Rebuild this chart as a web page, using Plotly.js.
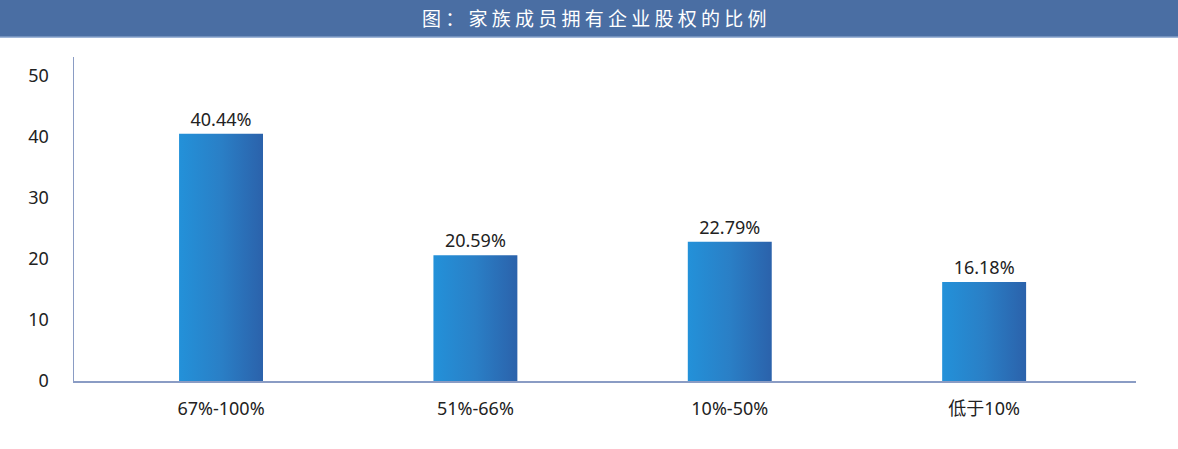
<!DOCTYPE html>
<html>
<head>
<meta charset="utf-8">
<script src="https://cdn.plot.ly/plotly-3.0.1.min.js"></script>
<style>
  html, body { margin: 0; padding: 0; background: #fff; }
  #chart { width: 1178px; height: 449px; }
</style>
</head>
<body>
<div id="chart"></div>
<script>
// Data
const categories = ['67%-100%', '51%-66%', '10%-50%', '低于10%'];
const shares = [40.44, 20.59, 22.79, 16.18];
const shareLabels = ['40.44%', '20.59%', '22.79%', '16.18%'];
const yTicks = [0, 10, 20, 30, 40, 50];
const chartTitle = '图：家族成员拥有企业股权的比例';

const latinFont = '"Noto Sans", "Open Sans", sans-serif';
const axisColor = '#8a9cc4';

const trace = {
    type: 'bar',
    x: categories,
    y: shares,
    text: shareLabels,
    textposition: 'outside',
    cliponaxis: false,
    textfont: { family: latinFont, size: 18, color: '#222' },
    marker: { color: '#2679c4', line: { width: 0 } },
    width: 0.33,
    hoverinfo: 'none'
};

const layout = {
    width: 1178,
    height: 449,
    margin: { l: 74, r: 42, t: 57, b: 68 },
    paper_bgcolor: '#ffffff',
    plot_bgcolor: '#ffffff',
    showlegend: false,
    font: { family: latinFont, color: '#222' },
    xaxis: {
        type: 'category',
        range: [-0.578, 3.597],
        showgrid: false,
        zeroline: false,
        showline: true,
        linecolor: axisColor,
        linewidth: 1.5,
        ticks: '',
        ticklabelstandoff: 11,
        tickfont: { family: '"Noto Sans", "Noto Sans CJK SC", sans-serif', size: 18, color: '#222' },
        fixedrange: true
    },
    yaxis: {
        range: [0, 53],
        tickvals: yTicks,
        ticktext: yTicks.map(String),
        showgrid: false,
        zeroline: false,
        showline: true,
        linecolor: axisColor,
        linewidth: 1.5,
        ticks: '',
        ticklabelstandoff: 20,
        tickfont: { family: latinFont, size: 18, color: '#222' },
        fixedrange: true
    },
    shapes: [
        {
            type: 'rect', xref: 'paper', yref: 'paper', layer: 'below',
            x0: -0.07, x1: 1.04, y0: 1.062, y1: 1.18,
            fillcolor: '#4a6ea3', line: { width: 0 }
        },
        {
            type: 'line', xref: 'paper', yref: 'paper',
            x0: -0.07, x1: 1.04, y0: 1.061, y1: 1.061,
            line: { color: '#9fb6d8', width: 1.5 }
        }
    ],
    annotations: [{
        xref: 'paper', yref: 'paper',
        x: (594 - 74) / 1062, y: 1.121,
        xanchor: 'center', yanchor: 'middle',
        showarrow: false,
        text: chartTitle.split('').join(' '),
        font: { family: '"Noto Sans CJK SC", sans-serif', size: 19, color: '#ffffff' }
    }]
};

Plotly.newPlot('chart', [trace], layout, { displayModeBar: false, staticPlot: true }).then(gd => {
    // horizontal gradient on the bars, light blue to dark blue
    const svg = gd.querySelector('svg.main-svg');
    const ns = 'http://www.w3.org/2000/svg';
    let defs = svg.querySelector('defs');
    if (!defs) { defs = document.createElementNS(ns, 'defs'); svg.insertBefore(defs, svg.firstChild); }
    const grad = document.createElementNS(ns, 'linearGradient');
    grad.setAttribute('id', 'barGrad');
    grad.setAttribute('x1', '0'); grad.setAttribute('y1', '0');
    grad.setAttribute('x2', '1'); grad.setAttribute('y2', '0');
    [['0', '#2391d9'], ['0.5', '#2a7fc6'], ['1', '#2b62ab']].forEach(([o, c]) => {
        const s = document.createElementNS(ns, 'stop');
        s.setAttribute('offset', o); s.setAttribute('stop-color', c);
        grad.appendChild(s);
    });
    defs.appendChild(grad);
    gd.querySelectorAll('.bars .point path').forEach(p => {
        p.style.fill = 'url(#barGrad)';
    });
});
</script>
</body>
</html>
